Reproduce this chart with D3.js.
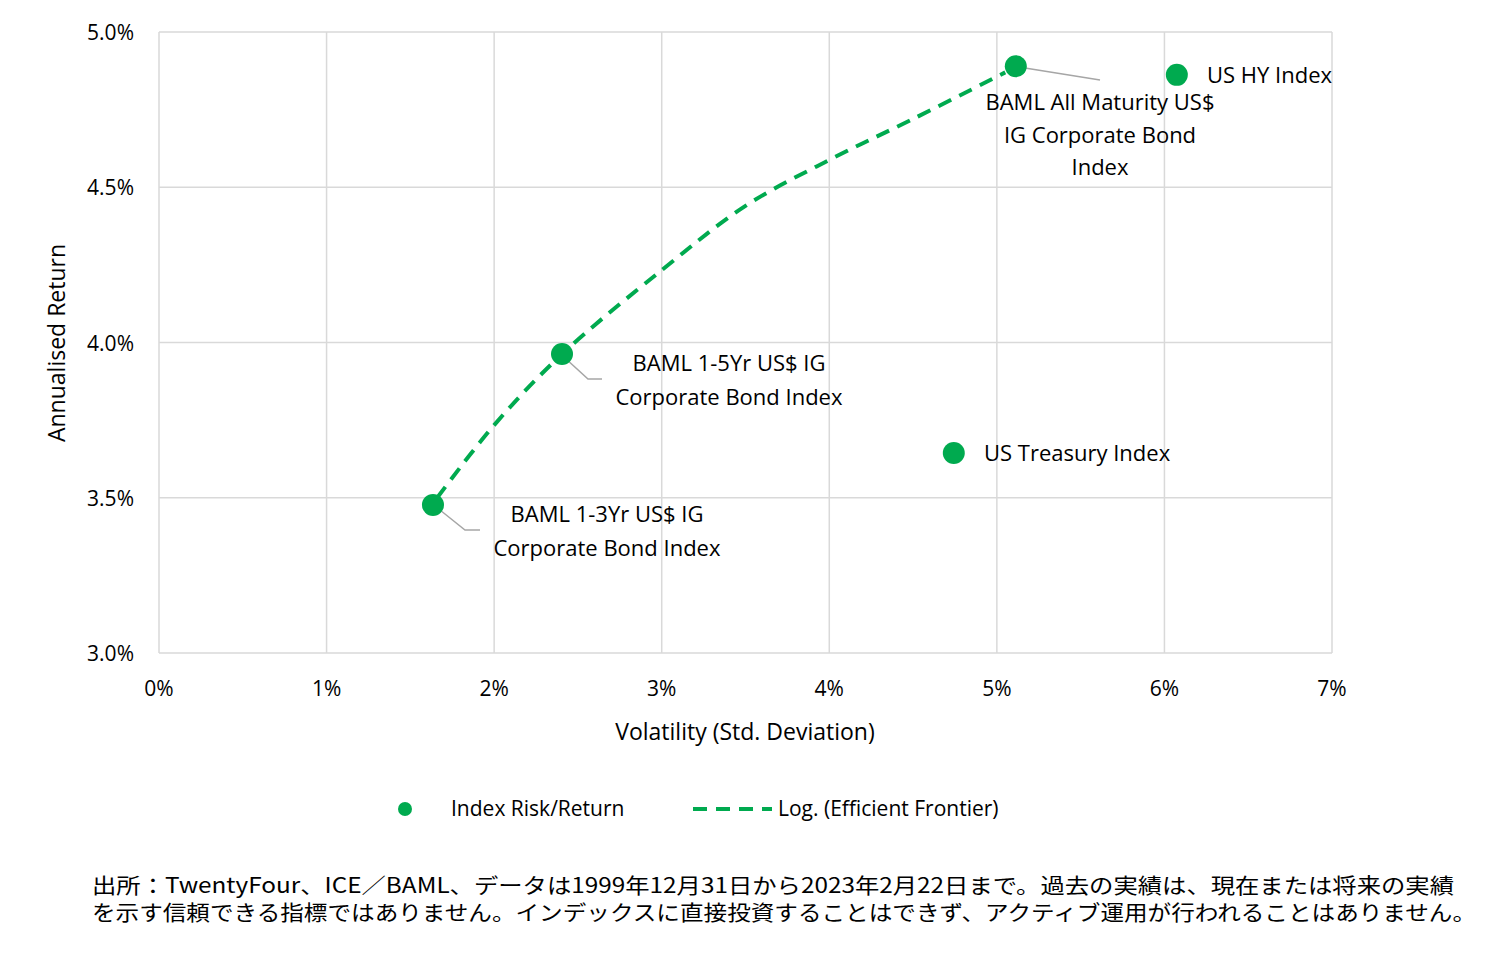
<!DOCTYPE html>
<html><head><meta charset="utf-8">
<script src="https://cdn.jsdelivr.net/npm/d3@7"></script>
<style>body{margin:0;background:#fff}text{font-family:"Open Sans","Noto Sans",sans-serif;fill:#000}</style>
</head><body><svg id="c" width="1500" height="956"></svg>
<script>
const names=["BAML 1-3Yr US$ IG Corporate Bond Index","BAML 1-5Yr US$ IG Corporate Bond Index","BAML All Maturity US$ IG Corporate Bond Index","US HY Index","US Treasury Index"];
const vol=[1.635,2.405,5.113,6.074,4.743];
const ret=[3.477,3.963,4.89,4.862,3.644];
const trendX=[1.66,2.0,2.4,3.0,3.5,4.0,4.5,5.05];
const trendY=[3.50,3.734,3.96,4.233,4.44,4.588,4.72,4.87];
const xTicks=[0,1,2,3,4,5,6,7];
const yTicks=[3.0,3.5,4.0,4.5,5.0];
const green="#00AA4F";
const svg=d3.select("#c");
const x=d3.scaleLinear().domain([0,7]).range([159,1332]);
const y=d3.scaleLinear().domain([3,5]).range([653,32]);
const g=svg.append("g");
g.selectAll(".vx").data(xTicks).join("line").attr("x1",d=>x(d)).attr("x2",d=>x(d)).attr("y1",32).attr("y2",653).attr("stroke","#d9d9d9").attr("stroke-width",1.5);
g.selectAll(".hy").data(yTicks).join("line").attr("x1",159).attr("x2",1332).attr("y1",d=>y(d)).attr("y2",d=>y(d)).attr("stroke","#d9d9d9").attr("stroke-width",1.5);
g.selectAll(".xt").data(xTicks).join("text").attr("x",d=>x(d)).attr("y",696).attr("text-anchor","middle").attr("font-size",21).text(d=>d+"%");
g.selectAll(".yt").data(yTicks).join("text").attr("x",134).attr("y",d=>y(d)+8).attr("text-anchor","end").attr("font-size",21).text(d=>d.toFixed(1)+"%");
svg.append("text").attr("x",745).attr("y",740).attr("text-anchor","middle").attr("font-size",23).text("Volatility (Std. Deviation)");
svg.append("text").attr("transform","translate(65,343) rotate(-90)").attr("text-anchor","middle").attr("font-size",23).text("Annualised Return");
const pts=trendX.map((v,i)=>[v,trendY[i]]);
svg.append("path").attr("d",d3.line().curve(d3.curveCatmullRom).x(d=>x(d[0])).y(d=>y(d[1]))(pts)).attr("fill","none").attr("stroke",green).attr("stroke-width",4).attr("stroke-dasharray","14,9");
// leader lines
const leaders=[[[440,510],[465,530],[480,530]],[[565,358],[588,379],[602,379]],[[1025,68],[1100,80]]];
leaders.forEach(l=>svg.append("path").attr("d",d3.line()(l)).attr("fill","none").attr("stroke","#a6a6a6").attr("stroke-width",1.5));
svg.selectAll(".pt").data(vol).join("circle").attr("cx",d=>x(d)).attr("cy",(d,i)=>y(ret[i])).attr("r",11).attr("fill",green);
const labels=[
 {lines:["BAML 1-3Yr US$ IG","Corporate Bond Index"],x:607,y:522,a:"middle"},
 {lines:["BAML 1-5Yr US$ IG","Corporate Bond Index"],x:729,y:371,a:"middle"},
 {lines:["BAML All Maturity US$","IG Corporate Bond","Index"],x:1100,y:110,a:"middle"},
 {lines:["US HY Index"],x:1207,y:83,a:"start"},
 {lines:["US Treasury Index"],x:984,y:461,a:"start"}];
labels.forEach(L=>{const t=svg.append("text").attr("font-size",22).attr("text-anchor",L.a);
 L.lines.forEach((s,i)=>t.append("tspan").attr("x",L.x).attr("y",L.y+i*(L.lines.length==3?32.5:33.5)).text(s));});
// legend
svg.append("circle").attr("cx",405).attr("cy",809).attr("r",7).attr("fill",green);
svg.append("text").attr("x",451).attr("y",816).attr("font-size",21).text("Index Risk/Return");
svg.append("line").attr("x1",693).attr("x2",772).attr("y1",809).attr("y2",809).attr("stroke",green).attr("stroke-width",4).attr("stroke-dasharray","14,9");
svg.append("text").attr("x",778).attr("y",816).attr("font-size",21).text("Log. (Efficient Frontier)");
const foot=["出所：TwentyFour、ICE／BAML、データは1999年12月31日から2023年2月22日まで。過去の実績は、現在または将来の実績","を示す信頼できる指標ではありません。インデックスに直接投資することはできず、アクティブ運用が行われることはありません。"];
foot.forEach((s,i)=>svg.append("text").attr("x",92).attr("y",893+i*27).attr("font-size",21).style("font-family","'Noto Sans CJK JP'").attr("textLength",i==0?1362:1384).attr("lengthAdjust","spacingAndGlyphs").text(s));
</script></body></html>
